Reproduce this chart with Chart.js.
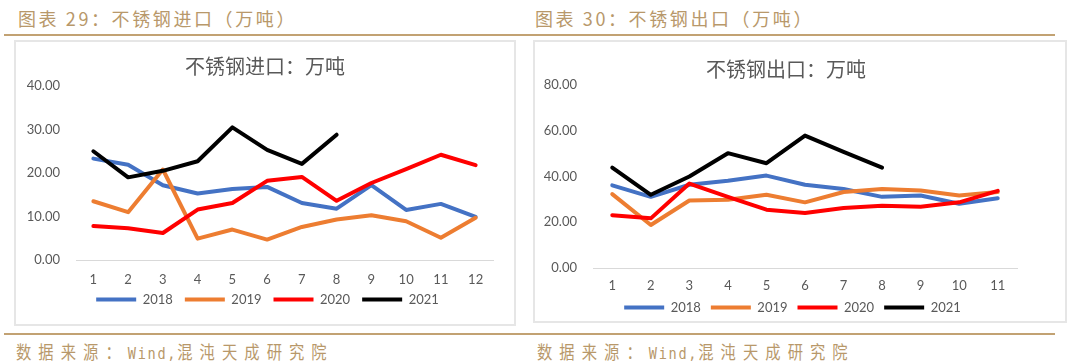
<!DOCTYPE html>
<html>
<head>
<meta charset="utf-8">
<script src="https://cdn.jsdelivr.net/npm/chart.js@4/dist/chart.umd.min.js"></script>
<style>
  html, body { margin: 0; padding: 0; background: #fff; }
  body { width: 1080px; height: 364px; position: relative; overflow: hidden; font-family: 'Noto Sans CJK SC', sans-serif; }
  .hdr { position: absolute; top: 5px; font-size: 18px; color: #B8986A; white-space: nowrap; letter-spacing: 2.6px; }
  .gold { position: absolute; left: 4px; width: 1051px; height: 2px; background: #C2A273; }
  .box { position: absolute; border: 2px solid #e6e6e6; box-sizing: border-box; pointer-events: none; }
  .cv { position: absolute; }
  .ftr { position: absolute; top: 338px; font-size: 18px; color: #B8986A; white-space: nowrap; transform: scaleX(0.85); transform-origin: left top; }
  .ftr .cj { letter-spacing: 8.3px; }
  .ftr .lt { letter-spacing: 2px; font-family: 'DejaVu Sans Mono', monospace; font-size: 16px; }
</style>
</head>
<body>
<div class="hdr" style="left:18px;">图表 29：不锈钢进口（万吨）</div>
<div class="hdr" style="left:535px;">图表 30：不锈钢出口（万吨）</div>
<div class="gold" style="top:34px;"></div>
<div class="gold" style="top:333px;"></div>

<div class="cv" style="left:14px; top:40px; width:501px; height:292px;"><canvas id="c1"></canvas></div>
<div class="cv" style="left:533px; top:40px; width:533px; height:292px;"><canvas id="c2"></canvas></div>
<div class="box" style="left:14px; top:40px; width:502px; height:286px;"></div>
<div class="box" style="left:533px; top:40px; width:534px; height:283px;"></div>

<div class="ftr" style="left:16px;"><span class="cj">数据来源：</span><span class="lt">Wind,</span><span class="cj">混沌天成研究院</span></div>
<div class="ftr" style="left:537px;"><span class="cj">数据来源：</span><span class="lt">Wind,</span><span class="cj">混沌天成研究院</span></div>

<script>
// ---- Data: 不锈钢进口 (万吨) ----
const importMonths = ['1','2','3','4','5','6','7','8','9','10','11','12'];
const import2018 = [23.3, 21.9, 17.2, 15.3, 16.3, 16.8, 13.1, 11.8, 17.2, 11.5, 12.9, 9.9];
const import2019 = [13.5, 11.0, 20.8, 4.9, 7.0, 4.7, 7.6, 9.3, 10.3, 8.9, 5.1, 9.7];
const import2020 = [7.8, 7.3, 6.2, 11.6, 13.1, 18.2, 19.1, 13.6, 17.7, 20.9, 24.2, 21.8];
const import2021 = [25.0, 19.0, 20.5, 22.7, 30.5, 25.3, 22.1, 28.8];
const importTicks = { min: 0, max: 40, step: 10 };

// ---- Data: 不锈钢出口 (万吨) ----
const exportMonths = ['1','2','3','4','5','6','7','8','9','10','11'];
const export2018 = [36.1, 31.1, 36.4, 38.1, 40.4, 36.4, 34.5, 31.1, 31.7, 28.1, 30.5];
const export2019 = [32.3, 18.8, 29.5, 29.8, 32.0, 28.7, 33.2, 34.5, 33.9, 31.7, 33.2];
const export2020 = [23.1, 21.7, 36.9, 31.1, 25.5, 24.0, 26.2, 27.2, 26.8, 28.7, 33.7];
const export2021 = [43.9, 32.0, 40.0, 50.2, 45.8, 57.9, 50.8, 43.9];
const exportTicks = { min: 0, max: 80, step: 20 };

const seriesNames = ['2018', '2019', '2020', '2021'];
const seriesColors = ['#4472C4', '#ED7D31', '#FF0000', '#000000'];

Chart.defaults.font.family = "Lato, 'Noto Sans CJK SC', sans-serif";
Chart.defaults.color = '#595959';

// nudges the title / legend boxes after layout (they centre on the full width otherwise)
const shiftBoxes = {
  id: 'shiftBoxes',
  afterLayout(chart, args, o) {
    const L = chart.legend, T = chart.titleBlock;
    if (L) { L.left += o.legendDx; L.right += o.legendDx; L.top += o.legendDy; L.bottom += o.legendDy; }
    if (T) { T.left += o.titleDx; T.right += o.titleDx; }
  }
};

function makeChart(id, title, labels, series, ticks, geo) {
  const datasets = series.map((d, i) => ({
    label: seriesNames[i],
    data: d,
    borderColor: seriesColors[i],
    backgroundColor: seriesColors[i],
    borderWidth: 4,
    pointRadius: 0,
    tension: 0,
    borderJoinStyle: 'round',
    borderCapStyle: 'round',
    order: 4 - i
  }));
  return new Chart(document.getElementById(id), {
    type: 'line',
    data: { labels, datasets },
    plugins: [shiftBoxes],
    options: {
      responsive: true,
      maintainAspectRatio: false,
      animation: false,
      layout: { padding: { left: 0, right: geo.right, top: 0, bottom: geo.bottom } },
      plugins: {
        tooltip: { enabled: false },
        shiftBoxes: { legendDx: geo.legendDx, legendDy: geo.legendDy, titleDx: geo.titleDx },
        title: {
          display: true, text: title, color: '#595959',
          font: { family: "'Noto Sans CJK SC', sans-serif", size: 20, weight: 'normal' },
          padding: { top: geo.titleTop, bottom: geo.titleBottom }
        },
        legend: {
          position: 'bottom',
          labels: {
            usePointStyle: true, pointStyle: 'line', pointStyleWidth: 40,
            font: { size: 13 }, color: '#595959', padding: geo.legPad,
            sort: (a, b) => a.datasetIndex - b.datasetIndex
          }
        }
      },
      scales: {
        x: {
          offset: true,
          grid: { display: false, drawTicks: false },
          border: { display: true, color: '#d9d9d9', width: 1 },
          ticks: { font: { size: 13 }, color: '#595959', padding: geo.xPad, maxRotation: 0 },
          afterFit: s => { s.height = geo.xHeight; }
        },
        y: {
          min: ticks.min, max: ticks.max,
          grid: { display: false, drawTicks: false },
          border: { display: false },
          ticks: { stepSize: ticks.step, font: { size: 13 }, color: '#595959', padding: geo.yPad,
                   callback: v => Number(v).toFixed(2) },
          afterFit: s => { s.width = geo.yWidth; }
        }
      }
    }
  });
}

makeChart('c1', '不锈钢进口：万吨', importMonths, [import2018, import2019, import2020, import2021], importTicks,
  { right: 22, bottom: 12, titleTop: 14, titleBottom: 8, xPad: 12, xHeight: 25, yPad: 16, yWidth: 62, legPad: 12,
    legendDx: 14, legendDy: -4, titleDx: 11.5 });
makeChart('c2', '不锈钢出口：万吨', exportMonths, [export2018, export2019, export2020, export2021], exportTicks,
  { right: 49, bottom: 6, titleTop: 17, titleBottom: 4, xPad: 10, xHeight: 25, yPad: 16, yWidth: 60, legPad: 10,
    legendDx: 17.5, legendDy: -2, titleDx: 11 });
</script>
</body>
</html>
